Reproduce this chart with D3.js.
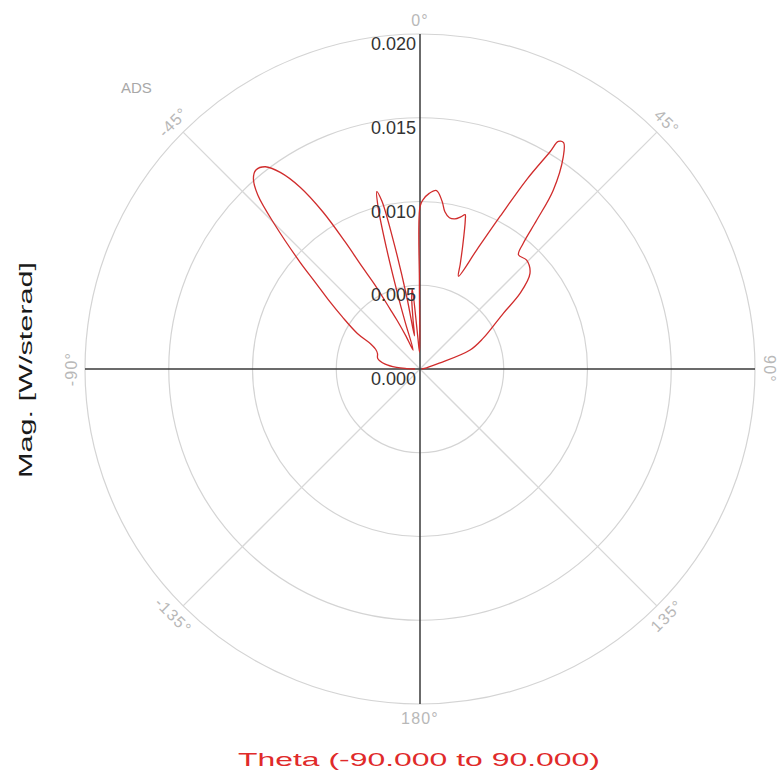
<!DOCTYPE html>
<html>
<head>
<meta charset="utf-8">
<script src="https://cdn.jsdelivr.net/npm/d3@7"></script>
<style>
  html, body { margin: 0; padding: 0; background: #fff; }
  svg { display: block; }
</style>
</head>
<body>
<svg id="chart" width="777" height="782"></svg>
<script>
// Radiation pattern: magnitude [W/sterad] against theta [deg], clockwise from 0° at the top
const thetaDeg = [
  -90, -88, -86, -82, -76, -70, -66, -63, -60.4, -56.1, -53.3, -50.4, -48.3, -45.2, -43,
  -41.2, -39.5, -37.4, -35.4, -33.4, -31.7, -30.5, -29.5, -28.2, -26.5, -25.2, -23,
  -20, -17.5, -16.7, -15.5, -14.5, -13.7, -12.8, -11.8, -10.4, -9.5, -8, -6.6, -5.5, -4,
  -1.5, -0.4, 0, 1, 3, 5.3, 7.5, 9, 11, 13.1, 15, 16.3, 16.9, 19.1, 21, 22.5,
  25.5, 27.7, 29.4, 30.9, 31.3, 32.4, 34, 36.7, 38.1, 39.4, 40.8, 44.4, 49, 52.9,
  56.2, 60.9, 64, 69.2, 73.3, 80, 90
];
const magnitude = [
  0.0003, 0.0008, 0.0014, 0.0021, 0.0026, 0.0027, 0.0029, 0.0033, 0.0043, 0.0056, 0.0067, 0.0081, 0.0096, 0.0122, 0.0142,
  0.0151, 0.0154, 0.0152, 0.0144, 0.0130, 0.0110, 0.0088, 0.0070, 0.0057, 0.0040, 0.0032, 0.0021,
  0.0012, 0.0030, 0.0045, 0.0075, 0.0100, 0.0109, 0.0103, 0.0080, 0.0044, 0.0020, 0.0030, 0.0043, 0.0048, 0.0020,
  0.0010, 0.0050, 0.0097, 0.0101, 0.0105, 0.0107, 0.0101, 0.0095, 0.0092, 0.0092, 0.0094, 0.0096, 0.0093, 0.0078, 0.0067, 0.0060,
  0.0079, 0.0103, 0.0130, 0.0151, 0.0159, 0.0160, 0.0153, 0.0133, 0.0113, 0.0097, 0.0090, 0.0091, 0.0087, 0.0075,
  0.0060, 0.0048, 0.0042, 0.0032, 0.0012, 0.0004, 0.0001
];

const radialTicks = [0, 0.005, 0.010, 0.015, 0.020];
const spokeAngles = [0, 45, 90, 135, 180, -135, -90, -45];
const spokeLabels = ["0°", "45°", "90°", "135°", "180°", "-135°", "-90°", "-45°"];
const chartTag = "ADS";
const xTitle = "Theta (-90.000 to 90.000)";
const yTitle = "Mag. [W/sterad]";

const cx = 420, cy = 369, R = 335;
const font = "'Liberation Sans', Arial, sans-serif";

const rScale = d3.scaleLinear().domain([0, 0.020]).range([0, R]);
const aScale = d3.scaleLinear().domain([-180, 180]).range([-Math.PI, Math.PI]);

const svg = d3.select("#chart");
svg.append("rect").attr("width", 777).attr("height", 782).attr("fill", "#fff");

const g = svg.append("g").attr("transform", `translate(${cx},${cy})`);

// Magnitude rings
g.selectAll("circle.ring")
  .data(radialTicks.filter(d => d > 0))
  .join("circle")
  .attr("class", "ring")
  .attr("r", d => rScale(d))
  .attr("fill", "none")
  .attr("stroke", "#d4d4d4")
  .attr("stroke-width", 1.2);

// Diagonal spokes (light) and main axes (dark)
g.selectAll("line.diag")
  .data([45, 135])
  .join("line")
  .attr("class", "diag")
  .attr("x1", d => R * Math.sin(aScale(d)))
  .attr("y1", d => -R * Math.cos(aScale(d)))
  .attr("x2", d => -R * Math.sin(aScale(d)))
  .attr("y2", d => R * Math.cos(aScale(d)))
  .attr("stroke", "#d8d8d8")
  .attr("stroke-width", 1.3);

g.selectAll("line.axis")
  .data([0, 90])
  .join("line")
  .attr("class", "axis")
  .attr("x1", d => R * Math.sin(aScale(d)))
  .attr("y1", d => -R * Math.cos(aScale(d)))
  .attr("x2", d => -R * Math.sin(aScale(d)))
  .attr("y2", d => R * Math.cos(aScale(d)))
  .attr("stroke", "#3a3a3a")
  .attr("stroke-width", 1.5);

// Pattern trace
const pts = thetaDeg.map((t, i) => ({ t, m: magnitude[i] }));
const radial = d3.lineRadial()
  .angle(d => aScale(d.t))
  .radius(d => rScale(d.m))
  .curve(d3.curveCatmullRom.alpha(0.5));

g.append("path")
  .datum(pts)
  .attr("d", radial)
  .attr("fill", "none")
  .attr("stroke", "#d02c2c")
  .attr("stroke-width", 1.3)
  .attr("stroke-linejoin", "round");

// Magnitude tick labels along the 0° axis
g.selectAll("text.rtick")
  .data(radialTicks)
  .join("text")
  .attr("class", "rtick")
  .attr("x", -4)
  .attr("y", d => -rScale(d) + 16)
  .attr("text-anchor", "end")
  .attr("font-family", font)
  .attr("font-size", 18)
  .attr("fill", "#333")
  .text(d => d3.format(".3f")(d));

// Angle labels around the rim
const labelR = 349;
g.selectAll("text.alabel")
  .data(spokeAngles.map((a, i) => ({ a, label: spokeLabels[i] })))
  .join("text")
  .attr("class", "alabel")
  .attr("transform", d => {
    const x = labelR * Math.sin(aScale(d.a));
    const y = -labelR * Math.cos(aScale(d.a));
    let rot = d.a;
    if (rot > 90) rot -= 180;
    if (rot < -90) rot += 180;
    return `translate(${x},${y}) rotate(${rot})`;
  })
  .attr("text-anchor", "middle")
  .attr("dominant-baseline", "central")
  .attr("font-family", font)
  .attr("font-size", 16)
  .attr("letter-spacing", 1.2)
  .attr("fill", "#b8b8b8")
  .text(d => d.label);

// Corner tag
svg.append("text")
  .attr("x", 121)
  .attr("y", 93)
  .attr("font-family", font)
  .attr("font-size", 15)
  .attr("fill", "#a8a8a8")
  .text(chartTag);

// Axis titles
svg.append("text")
  .attr("x", 419)
  .attr("y", 766)
  .attr("text-anchor", "middle")
  .attr("font-family", font)
  .attr("font-size", 19)
  .attr("fill", "#e02a2a")
  .attr("textLength", 362)
  .attr("lengthAdjust", "spacingAndGlyphs")
  .text(xTitle);

svg.append("text")
  .attr("transform", "translate(32,370) rotate(-90)")
  .attr("text-anchor", "middle")
  .attr("font-family", font)
  .attr("font-size", 18)
  .attr("fill", "#1a1a1a")
  .attr("textLength", 216)
  .attr("lengthAdjust", "spacingAndGlyphs")
  .text(yTitle);
</script>
</body>
</html>
